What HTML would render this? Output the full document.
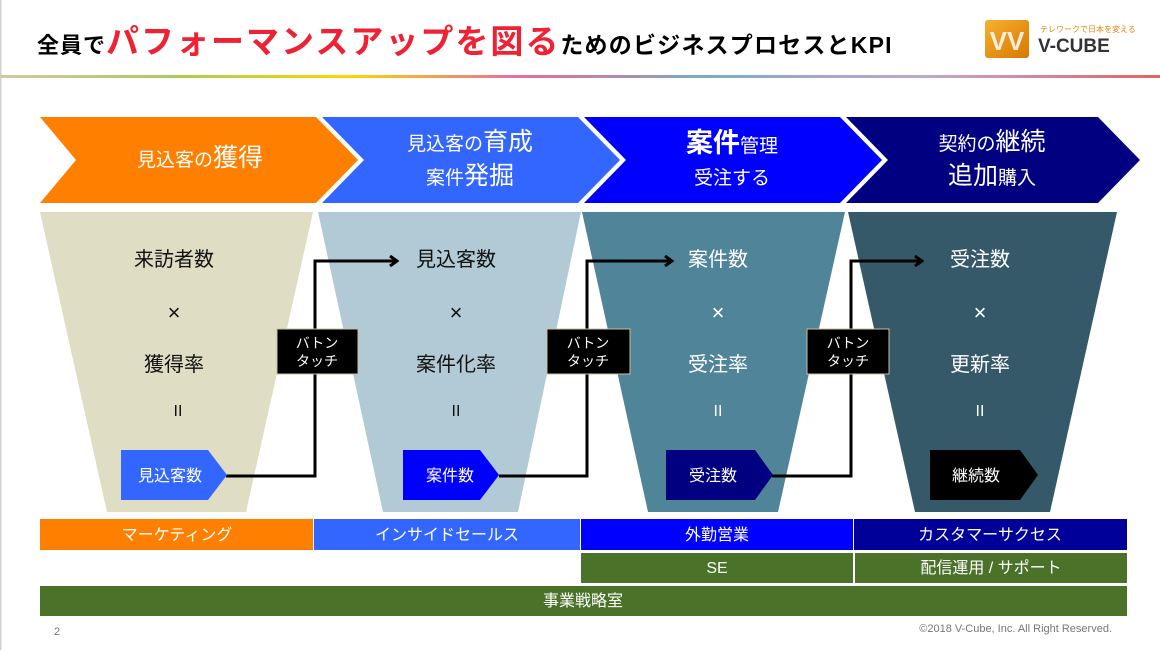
<!DOCTYPE html>
<html><head><meta charset="utf-8"><style>
body{margin:0;background:#fff}
svg text{font-family:"Liberation Sans","Noto Sans CJK JP",sans-serif}
</style></head><body>
<svg width="1160" height="650" viewBox="0 0 1160 650" xmlns="http://www.w3.org/2000/svg">
<defs>
<linearGradient id="rb" x1="0" x2="1">
<stop offset="0" stop-color="#d2c8a0"/><stop offset="0.15" stop-color="#a8cc5a"/><stop offset="0.3" stop-color="#ffd400"/><stop offset="0.45" stop-color="#e86aa0"/><stop offset="0.6" stop-color="#7aaac0"/><stop offset="0.8" stop-color="#c0a8d0"/><stop offset="1" stop-color="#e86060"/>
</linearGradient>
<linearGradient id="lg" x1="0" y1="0" x2="1" y2="1"><stop offset="0" stop-color="#f7b030"/><stop offset="1" stop-color="#d87800"/></linearGradient>
<marker id="ah" markerWidth="10" markerHeight="12" refX="8" refY="6" orient="auto" markerUnits="userSpaceOnUse"><path d="M1,1 L8,6 L1,11" fill="none" stroke="#000" stroke-width="3"/></marker>
</defs>
<rect x="0" y="0" width="1.5" height="650" fill="#d0d0d0"/>
<text x="37" y="53" font-size="22" font-weight="bold" fill="#000" letter-spacing="1">全員で<tspan font-size="33" fill="#ee2233" letter-spacing="2">パフォーマンスアップを図る</tspan><tspan font-size="23" letter-spacing="1.2">ためのビジネスプロセスとKPI</tspan></text>
<rect x="0" y="75" width="1160" height="3" fill="url(#rb)"/>
<rect x="985" y="20" width="44" height="38" rx="3" fill="url(#lg)"/>
<text x="1007" y="50" font-size="26" font-weight="bold" fill="#fff" text-anchor="middle" opacity="0.85">VV</text>
<text x="1040" y="32" font-size="8" fill="#e08a10">テレワークで日本を変える</text>
<text x="1038" y="52" font-size="19" font-weight="bold" fill="#333">V-CUBE</text>
<polygon points="40,117 316,117 358,160 316,203 40,203 76,160" fill="#ff8000"/>
<polygon points="322,117 578,117 620,160 578,203 322,203 364,160" fill="#3366ff"/>
<polygon points="584,117 840,117 882,160 840,203 584,203 626,160" fill="#0000ff"/>
<polygon points="846,117 1098,117 1140,160 1098,203 846,203 888,160" fill="#000080"/>
<text x="200" y="166" fill="#fff" font-size="19" text-anchor="middle">見込客の<tspan font-size="25">獲得</tspan></text>
<text x="470" y="150" fill="#fff" font-size="19" text-anchor="middle">見込客の<tspan font-size="25">育成</tspan></text>
<text x="470" y="184" fill="#fff" font-size="19" text-anchor="middle">案件<tspan font-size="25">発掘</tspan></text>
<text x="732" y="152" fill="#fff" font-size="19" text-anchor="middle"><tspan font-size="27" font-weight="bold">案件</tspan>管理</text>
<text x="732" y="184" fill="#fff" font-size="19" text-anchor="middle">受注する</text>
<text x="992" y="150" fill="#fff" font-size="19" text-anchor="middle">契約の<tspan font-size="25">継続</tspan></text>
<text x="992" y="184" fill="#fff" font-size="19" text-anchor="middle"><tspan font-size="25">追加</tspan>購入</text>
<polygon points="40,212 313,212 246,512 107,512" fill="#e0ddc5"/>
<polygon points="318,212 581,212 518,512 383,512" fill="#b1cad5"/>
<polygon points="582,212 845,212 778,512 648,512" fill="#508499"/>
<polygon points="848,212 1117,212 1050,512 915,512" fill="#355968"/>
<g font-size="20" text-anchor="middle">
<text x="174" y="266" fill="#111">来訪者数</text><text x="174" y="320" fill="#111" font-size="22">×</text><text x="174" y="371" fill="#111">獲得率</text><text x="178" y="416" fill="#111" font-size="16">II</text>
<text x="456" y="266" fill="#111">見込客数</text><text x="456" y="320" fill="#111" font-size="22">×</text><text x="456" y="371" fill="#111">案件化率</text><text x="456" y="416" fill="#111" font-size="16">II</text>
<text x="718" y="266" fill="#fff">案件数</text><text x="718" y="320" fill="#fff" font-size="22">×</text><text x="718" y="371" fill="#fff">受注率</text><text x="718" y="416" fill="#fff" font-size="16">II</text>
<text x="980" y="266" fill="#fff">受注数</text><text x="980" y="320" fill="#fff" font-size="22">×</text><text x="980" y="371" fill="#fff">更新率</text><text x="980" y="416" fill="#fff" font-size="16">II</text>
</g>
<g fill="none" stroke="#000" stroke-width="3">
<polyline points="226,476 315,476 315,261 397,261" marker-end="url(#ah)"/>
<polyline points="499,476 587,476 587,261 672,261" marker-end="url(#ah)"/>
<polyline points="772,476 851,476 851,261 922,261" marker-end="url(#ah)"/>
</g>
<polygon points="121,450 208,450 227,475 208,500 121,500" fill="#3366ff"/>
<polygon points="403,450 480,450 499,475 480,500 403,500" fill="#0000ff"/>
<polygon points="666,450 755,450 773,475 755,500 666,500" fill="#000080"/>
<polygon points="930,450 1020,450 1038,475 1020,500 930,500" fill="#000"/>
<g font-size="16" fill="#fff" text-anchor="middle">
<text x="170" y="481">見込客数</text><text x="450" y="481">案件数</text><text x="713" y="481">受注数</text><text x="976" y="481">継続数</text>
</g>
<g fill="#000" stroke="#c8c0a0" stroke-width="1">
<rect x="277" y="329" width="81" height="45"/><rect x="547" y="329" width="83" height="45"/><rect x="807" y="329" width="82" height="45"/>
</g>
<g font-size="14" fill="#fff" text-anchor="middle">
<text x="317" y="348">バトン</text><text x="317" y="366">タッチ</text>
<text x="588" y="348">バトン</text><text x="588" y="366">タッチ</text>
<text x="848" y="348">バトン</text><text x="848" y="366">タッチ</text>
</g>
<rect x="40" y="519" width="273" height="31" fill="#ff8000"/>
<rect x="314" y="519" width="266" height="31" fill="#3366ff"/>
<rect x="581" y="519" width="272" height="31" fill="#0000ff"/>
<rect x="854" y="519" width="273" height="31" fill="#000099"/>
<rect x="581" y="553" width="272" height="30" fill="#4a7229"/>
<rect x="855" y="553" width="272" height="30" fill="#4a7229"/>
<rect x="40" y="586" width="1087" height="30" fill="#4a7229"/>
<g font-size="16" fill="#fff" text-anchor="middle">
<text x="177" y="540">マーケティング</text><text x="447" y="540">インサイドセールス</text><text x="717" y="540">外勤営業</text><text x="990" y="540">カスタマーサクセス</text>
<text x="717" y="573">SE</text><text x="991" y="573">配信運用 / サポート</text>
<text x="583" y="606">事業戦略室</text>
</g>
<text x="54" y="635" font-size="11" fill="#777">2</text>
<text x="1112" y="632" font-size="11" fill="#777" text-anchor="end">©2018 V-Cube, Inc. All Right Reserved.</text>
</svg>
</body></html>
